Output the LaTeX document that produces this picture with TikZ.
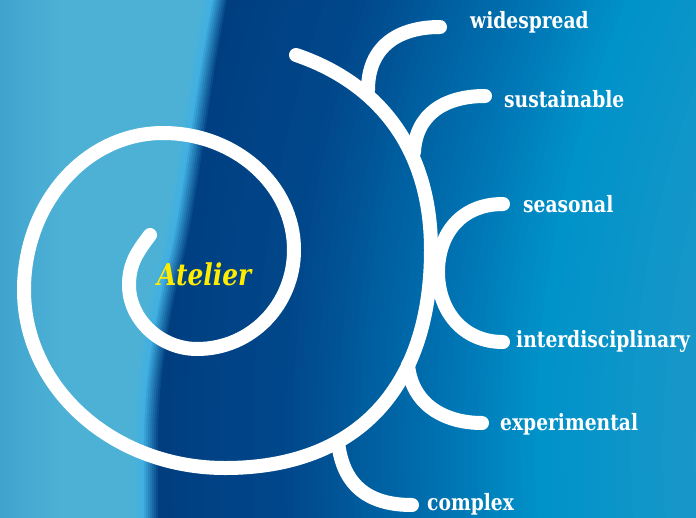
\documentclass[tikz,border=0pt]{standalone}
\usepackage{fontspec}
\newfontfamily\lblfont{DejaVu Serif}[FakeStretch=0.83]
\definecolor{bgleft}{HTML}{3EA2CD}
\definecolor{bglight}{HTML}{4DB1D6}
\definecolor{bgbright}{HTML}{40B0E2}
\definecolor{navy}{HTML}{003E80}
\definecolor{navyb}{HTML}{00488B}
\definecolor{midblue}{HTML}{0071B1}
\definecolor{ceru}{HTML}{0093C9}
\definecolor{ceruend}{HTML}{1A98C9}
\definecolor{ateliery}{HTML}{FFEC00}
\tikzset{
 stroke/.style={white, line width=14pt, line cap=round},
 lbl/.style={text=white, font=\lblfont\bfseries\fontsize{22.5}{22.5}\selectfont, anchor=base west, inner sep=0pt},
}
\begin{document}
\begin{tikzpicture}[x=1pt,y=-1pt]
\useasboundingbox (0,0) rectangle (696,517);
\clip (-4,-4) rectangle (700,521);
\fill[navy] (-4,-4) rectangle (700,521);
\foreach \ra/\rb/\ca/\cb/\n in {1530/1400/navy/navyb/8, 1400/1250/navyb/midblue/20, 1250/1150/midblue/ceru/14, 1150/990/ceru/ceruend/10}{
 \foreach \i in {0,...,\n}{
  \pgfmathsetmacro\r{\ra-(\ra-\rb)*\i/\n}
  \pgfmathtruncatemacro\p{100*\i/\n}
  \fill[\cb!\p!\ca] (1685,450) circle[radius=\r pt];
 }
}
\foreach \i in {1,...,13}{
 \pgfmathtruncatemacro\p{min(100,12.5*\i)}
 \pgfmathtruncatemacro\q{max(0,20*(\i-8))}
 \pgfmathtruncatemacro\d{-2*\i}
 \colorlet{edgec}{bgbright!\p!navy}
 \fill[bglight!\q!edgec, xshift=\d pt] (-60,-10) -- (231,-10) .. controls (212,80) and (200,200) .. (185,260)
  .. controls (172,310) and (160,380) .. (160,440) -- (160,600) -- (-60,600) -- cycle;
}
\shade[left color=bgleft, right color=bglight] (-4,-4) rectangle (60,521);

\draw[stroke] (150,235) .. controls (138,251) and (129,263) .. (129,285)
 .. controls (129,320) and (161,349) .. (197,349)
 .. controls (252,349) and (294,304) .. (294,250)
 .. controls (294,185) and (235,133) .. (163,133)
 .. controls (86,133) and (24,203) .. (24,290)
 .. controls (24,388) and (113,468) .. (225,468)
 .. controls (355,468) and (431,390) .. (431,250)
 .. controls (431,140) and (370,80) .. (296,55);

\coordinate (jwide) at (368,90);
\coordinate (jsust) at (414,152);
\coordinate (jseas) at (438,272);
\coordinate (jexpe) at (408,365);
\coordinate (jcomp) at (338,442);
\coordinate (ewide) at (440,27);
\coordinate (esust) at (485,96);
\coordinate (eseas) at (503,204);
\coordinate (einter) at (503,342);
\coordinate (eexpe) at (482,423);
\coordinate (ecomp) at (412,505);

\draw[stroke] (jwide) .. controls +(0,-45) and +(-40,0) .. (ewide);
\draw[stroke] (jsust) .. controls +(2,-38) and +(-40,0) .. (esust);
\draw[stroke] (eseas) .. controls +(-43,0) and +(0,-37) .. (jseas) .. controls +(0,38) and +(-41,0) .. (einter);
\draw[stroke] (jexpe) .. controls +(4,40) and +(-37,0) .. (eexpe);
\draw[stroke] (jcomp) .. controls +(5,45) and +(-42,0) .. (ecomp);

\node[text=ateliery, font=\lblfont\bfseries\itshape\fontsize{30}{30}\selectfont, anchor=base west, inner sep=0pt] (atelier) at (157,285) {Atelier};
\node[lbl] (wide) at (470,28) {widespread};
\node[lbl] (sust) at (504,107) {sustainable};
\node[lbl] (seas) at (523,212) {seasonal};
\node[lbl] (inter) at (516,347) {interdisciplinary};
\node[lbl] (expe) at (500,430) {experimental};
\node[lbl] (comp) at (427,510) {complex};
\end{tikzpicture}
\end{document}
